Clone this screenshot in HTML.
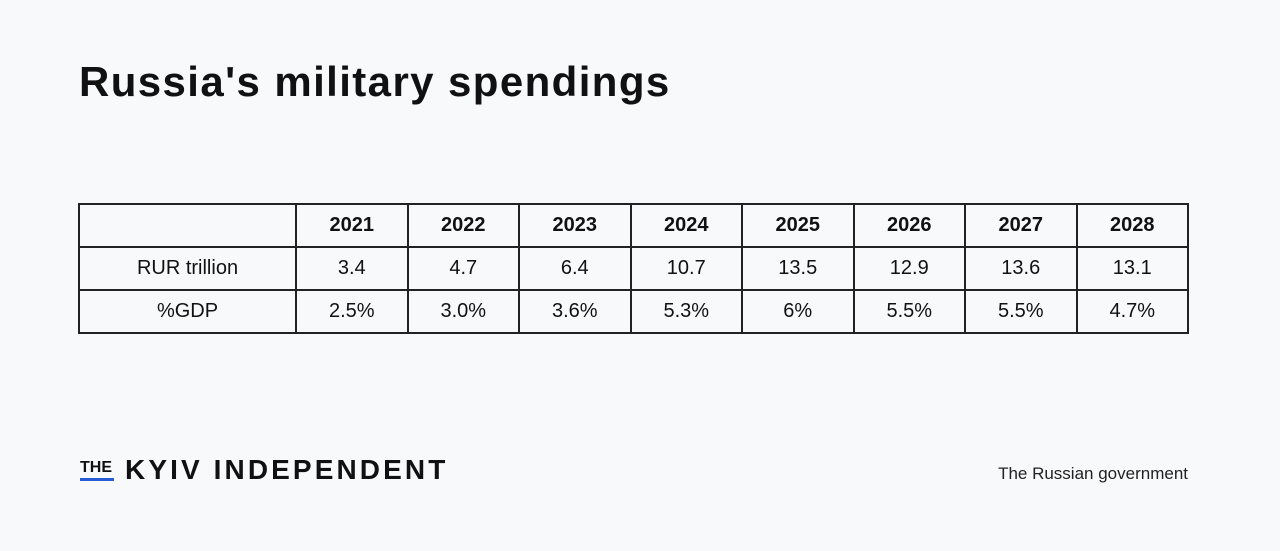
<!DOCTYPE html>
<html><head><style>
body{margin:0;width:1280px;height:551px;background:#f8f9fb;font-family:"Liberation Sans",sans-serif;color:#111;position:relative;overflow:hidden}
h1{position:absolute;left:79px;top:58px;margin:0;font-size:42px;font-weight:bold;letter-spacing:1.4px}
table{position:absolute;left:78px;top:203px;width:1111px;border-collapse:collapse;table-layout:fixed}
td{border:2px solid #222;text-align:center;font-size:20px;height:41px;padding:0}
tr.h td{font-weight:bold}
.logo{position:absolute;top:454px;font-weight:bold;font-size:28px;letter-spacing:3.1px}
.the{position:absolute;left:80px;top:459px;font-size:16px;font-weight:bold}
.bar{position:absolute;left:80px;top:478px;width:34px;height:3px;background:#2a5bd7}
.src{position:absolute;right:92px;top:464px;font-size:17px;color:#222}
</style></head><body>
<h1>Russia's military spendings</h1>
<table>
<colgroup><col style="width:217px"><col><col><col><col><col><col><col><col></colgroup>
<tr class="h"><td></td><td>2021</td><td>2022</td><td>2023</td><td>2024</td><td>2025</td><td>2026</td><td>2027</td><td>2028</td></tr>
<tr><td>RUR trillion</td><td>3.4</td><td>4.7</td><td>6.4</td><td>10.7</td><td>13.5</td><td>12.9</td><td>13.6</td><td>13.1</td></tr>
<tr><td>%GDP</td><td>2.5%</td><td>3.0%</td><td>3.6%</td><td>5.3%</td><td>6%</td><td>5.5%</td><td>5.5%</td><td>4.7%</td></tr>
</table>
<div class="the">THE</div><div class="bar"></div>
<div class="logo" style="left:125px">KYIV INDEPENDENT</div>
<div class="src">The Russian government</div>
</body></html>
